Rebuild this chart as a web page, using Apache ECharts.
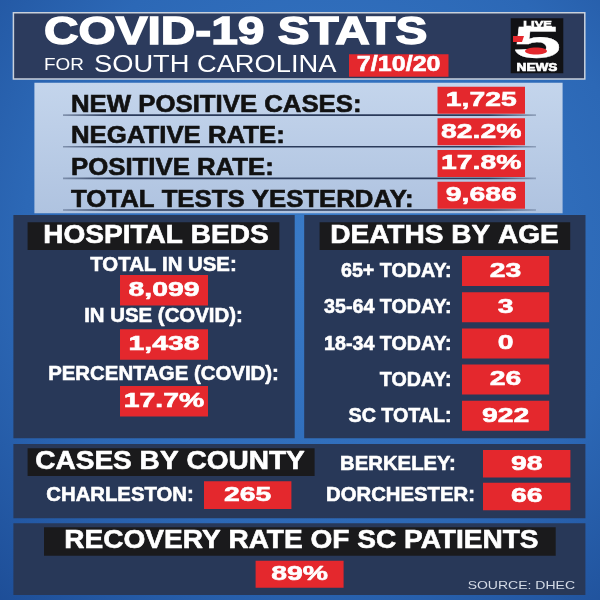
<!DOCTYPE html>
<html>
<head>
<meta charset="utf-8">
<script src="https://cdn.jsdelivr.net/npm/echarts@6/dist/echarts.min.js"></script>
<style>html,body{margin:0;padding:0;background:#2a63b0;}#main{width:600px;height:600px;}</style>
</head>
<body>
<div id="main"></div>
<script>
// ---- data ----
const titleText = 'COVID-19 STATS';
const stateText = ['FOR', 'SOUTH CAROLINA'];
const reportDate = '7/10/20';
const statLabels = ['NEW POSITIVE CASES:', 'NEGATIVE RATE:', 'POSITIVE RATE:', 'TOTAL TESTS YESTERDAY:'];
const statValues = ['1,725', '82.2%', '17.8%', '9,686'];
const bedsTitle = 'HOSPITAL BEDS';
const bedLabels = ['TOTAL IN USE:', 'IN USE (COVID):', 'PERCENTAGE (COVID):'];
const bedValues = ['8,099', '1,438', '17.7%'];
const deathsTitle = 'DEATHS BY AGE';
const deathLabels = ['65+ TODAY:', '35-64 TODAY:', '18-34 TODAY:', 'TODAY:', 'SC TOTAL:'];
const deathValues = [23, 3, 0, 26, 922];
const countyTitle = 'CASES BY COUNTY';
const countyNames = ['CHARLESTON:', 'BERKELEY:', 'DORCHESTER:'];
const countyValues = [265, 98, 66];
const recoveryTitle = 'RECOVERY RATE OF SC PATIENTS';
const recoveryRate = '89%';
const sourceText = 'SOURCE: DHEC';

// ---- styles / layout ----
const FAM = '"Liberation Sans", Arial, Helvetica, sans-serif';
const RED = '#e4282d', NAVY = '#283858', BLACK = '#1a1a1c', WHITE = '#ffffff';
const VAL = {size: 21, sx: 1.35};

const els = [];
function rect(x, y, w, h, fill, extra) {
  els.push({type: 'rect', z: 1, shape: {x: x, y: y, width: w, height: h}, style: Object.assign({fill: fill}, extra || {})});
}
function txt(str, ax, cy, o) {
  const font = (o.weight || 'bold') + ' ' + o.size + 'px ' + FAM;
  const col = o.color || WHITE;
  const bold = (o.weight || 'bold') === 'bold';
  els.push({type: 'text', z: o.z || 5, x: ax, y: cy, scaleX: o.sx || 1, scaleY: 1,
    style: {text: String(str), x: 0, y: 0, font: font, fill: col,
      align: o.align || 'left', verticalAlign: 'middle',
      stroke: o.stroke || (bold ? col : null), lineWidth: o.lw != null ? o.lw : (bold ? 0.6 : 0)}});
}
function valueBox(v, x, y, w, h) {
  rect(x, y, w, h, RED);
  txt(v, x + w / 2, y + h / 2, {size: VAL.size, sx: VAL.sx, align: 'center'});
}

// background
els.push({type: 'rect', z: 0, shape: {x: 0, y: 0, width: 600, height: 600},
  style: {fill: {type: 'radial', x: 0.55, y: 0.4, r: 0.85,
    colorStops: [{offset: 0, color: '#3a7cc9'}, {offset: 0.6, color: '#2c68b6'}, {offset: 1, color: '#1c4b94'}]}}});

// header
rect(13.4, 12.7, 571.4, 66.3, '#2c3b5d', {stroke: '#c9d1dc', lineWidth: 1.5});
txt(titleText, 44, 32.8, {size: 39.5, sx: 1.21, stroke: WHITE, lw: 1.4});
txt(stateText[0], 44, 65.8, {size: 16.3, sx: 1.16, weight: 'normal'});
txt(stateText[1], 94, 65.7, {size: 23.3, sx: 1.17, weight: 'normal'});
rect(349, 54.3, 99.5, 22.4, RED);
txt(reportDate, 398.7, 64.9, {size: 22, sx: 1.14, align: 'center'});
// logo
rect(510.7, 18.3, 52.6, 55, '#111114');
txt('LIVE', 537.5, 24, {size: 9.2, sx: 1.4, align: 'center'});
txt('5', 537, 46, {size: 45, sx: 1.95, align: 'center', lw: 0.3});
els.push({type: 'ellipse', z: 6, shape: {cx: 536, cy: 51, rx: 11, ry: 3.6}, style: {fill: RED}});
els.push({type: 'polygon', z: 6, shape: {points: [[513, 36], [524, 36], [522, 42], [513, 42]]}, style: {fill: RED}});
txt('NEWS', 537, 68, {size: 10.3, sx: 1.32, align: 'center'});

// stats panel
els.push({type: 'rect', z: 1, shape: {x: 34.4, y: 82.7, width: 528.2, height: 130.6},
  style: {fill: {type: 'linear', x: 0, y: 0, x2: 0, y2: 1,
    colorStops: [{offset: 0, color: '#c4d5ec'}, {offset: 1, color: '#afc3e0'}]}}});
statLabels.forEach(function (lab, i) {
  const top = 86.7 + 31.65 * i;
  els.push({type: 'rect', z: 2, shape: {x: 63, y: top + 27.6, width: 473, height: 1.6},
    style: {fill: {type: 'linear', x: 0, y: 0, x2: 1, y2: 0,
      colorStops: [{offset: 0, color: 'rgba(40,56,88,0.4)'}, {offset: 0.1, color: '#2a3a5a'},
        {offset: 0.9, color: '#2a3a5a'}, {offset: 1, color: 'rgba(40,56,88,0.3)'}]}}});
  txt(lab, 71, top + 18.6, {size: 23, sx: 1.12, color: '#111111'});
  valueBox(statValues[i], 437.5, top, 87.5, 27);
});

// hospital beds panel
rect(13.4, 215, 281.3, 223.3, NAVY);
rect(27.6, 222.3, 251.8, 27.7, BLACK);
txt(bedsTitle, 156, 235.9, {size: 25.5, sx: 1.1, align: 'center'});
const bedLabelY = [265.5, 316.7, 374.2];
const bedBoxY = [275, 329.3, 386];
bedLabels.forEach(function (lab, i) {
  txt(lab, 163.5, bedLabelY[i], {size: 20.4, sx: 1.0, align: 'center'});
  valueBox(bedValues[i], 120, bedBoxY[i], 88, 30.5);
});

// deaths by age panel
rect(304.2, 215, 281.3, 223.3, NAVY);
rect(319.6, 222.3, 250.6, 27.7, BLACK);
txt(deathsTitle, 444.5, 235.9, {size: 25.5, sx: 1.1, align: 'center'});
deathLabels.forEach(function (lab, i) {
  const top = 256 + 36.2 * i;
  txt(lab, 451.6, top + 15.6, {size: 20.3, sx: 0.97, align: 'right'});
  valueBox(deathValues[i], 462, top, 87.2, 30);
});

// county panel
rect(13.4, 444, 572, 74.3, NAVY);
rect(27.6, 448.3, 287, 27.7, BLACK);
txt(countyTitle, 170, 461.7, {size: 25.5, sx: 1.1, align: 'center'});
const countySlots = [
  {lx: 120, ly: 495, bx: 204, by: 481.3},
  {lx: 398, ly: 464.7, bx: 483, by: 450},
  {lx: 400.5, ly: 495, bx: 483, by: 482.7}
];
countyNames.forEach(function (name, i) {
  const s = countySlots[i];
  txt(name, s.lx, s.ly, {size: 20.5, sx: 0.99, align: 'center'});
  valueBox(countyValues[i], s.bx, s.by, 87.4, 27.6);
});

// recovery panel
rect(13.4, 523.3, 572, 71.7, NAVY);
rect(44, 527.3, 511.7, 28.4, BLACK);
txt(recoveryTitle, 301.4, 541, {size: 25.5, sx: 1.1, align: 'center'});
valueBox(recoveryRate, 255.6, 560.7, 88, 27);
txt(sourceText, 575, 586.4, {size: 10.3, sx: 1.36, align: 'right', weight: 'normal', color: '#d4dbe6'});

const chart = echarts.init(document.getElementById('main'), null, {renderer: 'canvas', width: 600, height: 600});
chart.setOption({animation: false, graphic: {elements: els}});
</script>
</body>
</html>
